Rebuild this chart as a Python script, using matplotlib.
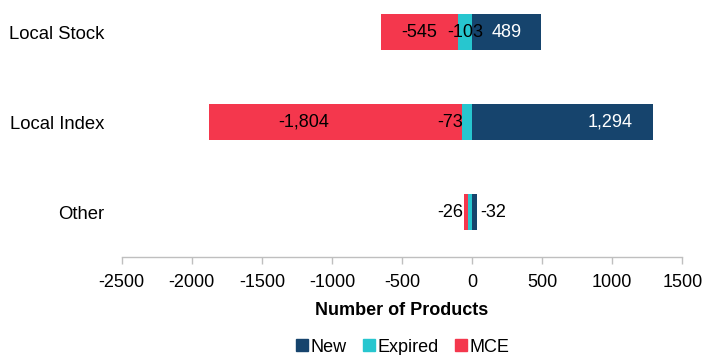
import matplotlib
matplotlib.use("Agg")
import matplotlib.pyplot as plt
import numpy as np
from matplotlib.patches import Patch

plt.rcParams["font.family"] = ["Liberation Sans", "DejaVu Sans"]
plt.rcParams["font.size"] = 13
plt.rcParams["axes.unicode_minus"] = False

categories = ["Local Stock", "Local Index", "Other"]
new = [489, 1294, 32]
expired = [-103, -73, -26]
mce = [-545, -1804, -32]

# text shown on each segment (None = no label)
new_labels = ["489", "1,294", None]
expired_labels = ["-103", "-73", "-26"]
mce_labels = ["-545", "-1,804", "-32"]

c_new = "#16446d"
c_exp = "#27c6cf"
c_mce = "#f4374d"

fig = plt.figure(figsize=(7.06, 3.55), dpi=100)
ax = fig.add_axes([0.1724, 0.276, 0.794, 0.724])

y = np.arange(len(categories))
h = 0.39
new_a = np.array(new, float)
exp_a = np.array(expired, float)
mce_a = np.array(mce, float)

ax.barh(y, new_a, height=h, color=c_new, label="New")
ax.barh(y, exp_a, height=h, color=c_exp, label="Expired")
ax.barh(y, mce_a, left=exp_a, height=h, color=c_mce, label="MCE")

# data labels
for i in range(len(categories)):
    if i == 0:
        # centred on each segment
        if new_labels[i]:
            ax.text(new_a[i] / 2, y[i], new_labels[i], ha="center", va="center", color="white")
        ax.text(exp_a[i] / 2, y[i], expired_labels[i], ha="center", va="center", color="black")
        ax.text(exp_a[i] + mce_a[i] / 2, y[i], mce_labels[i], ha="center", va="center", color="black")
    elif i == 1:
        ax.text(new_a[i] - 150, y[i], new_labels[i], ha="right", va="center", color="white")
        ax.text(exp_a[i] + 8, y[i], expired_labels[i], ha="right", va="center", color="black")
        ax.text(exp_a[i] + mce_a[i] * 0.625, y[i], mce_labels[i], ha="center", va="center", color="black")
    else:
        left_edge = exp_a[i] + mce_a[i]
        ax.text(left_edge - 8, y[i], expired_labels[i], ha="right", va="center", color="black")
        ax.text(new_a[i] + 25, y[i], mce_labels[i], ha="left", va="center", color="black")

ax.set_xlim(-2500, 1500)
ax.set_ylim(2.5, 2.5 - 257 / 90)
ax.set_xticks(np.arange(-2500, 1501, 500))
ax.set_yticks(y)
ax.set_yticklabels(categories, fontsize=13.3)

for s in ["left", "top", "right"]:
    ax.spines[s].set_visible(False)
ax.spines["bottom"].set_color("#bfbfbf")
ax.spines["bottom"].set_linewidth(1.0)
ax.tick_params(axis="x", colors="#bfbfbf", labelcolor="black", length=5, width=1, pad=7)
ax.tick_params(axis="y", length=0, pad=12.5)

ax.set_xlabel("Number of Products", fontweight="bold", labelpad=8)

handles = [Patch(color=c_new, label="New"), Patch(color=c_exp, label="Expired"),
           Patch(color=c_mce, label="MCE")]
fig.legend(handles=handles, loc="center", bbox_to_anchor=(403 / 706, 1 - 347 / 355),
           ncol=3, frameon=False, handlelength=0.65, handleheight=0.65,
           handletextpad=0.15, columnspacing=0.9, borderpad=0)

fig.savefig("out.png", dpi=100)
